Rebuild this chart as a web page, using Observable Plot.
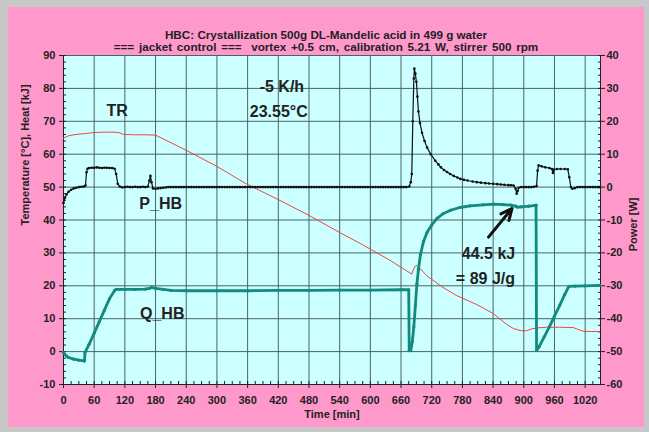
<!DOCTYPE html>
<html>
<head>
<meta charset="utf-8">
<script src="https://cdn.jsdelivr.net/npm/d3@7"></script>
<script src="https://cdn.jsdelivr.net/npm/@observablehq/plot@0.6"></script>
<style>
  html, body { margin: 0; padding: 0; background: #c8c8c8; }
  #wrap { position: relative; width: 649px; height: 432px; overflow: hidden; background: #c8c8c8; }
  #chart { position: absolute; left: 8px; top: 7px; }
  .ttl { position: absolute; left: 8px; width: 636px; text-align: center;
         font: bold 11.7px "Liberation Sans", Arial, sans-serif; color: #222; line-height: 12px; white-space: pre; }
</style>
</head>
<body>
<div id="wrap">
  <div id="chart"></div>
  <div class="ttl" style="top:29px">HBC: Crystallization 500g DL-Mandelic acid in 499 g water</div>
  <div class="ttl" style="top:41px; word-spacing:1.5px">=== jacket control ===  vortex +0.5 cm, calibration 5.21 W, stirrer 500 rpm</div>
</div>
<script>
// Reactor temperature TR [°C]
const trTime = [0, 5, 10, 20, 30, 45, 60, 80, 100, 110, 117, 140, 160, 180, 240, 300, 356, 420, 480, 540, 580, 640, 681, 684, 688, 691, 700, 710, 742, 769, 808, 840, 867, 880, 893, 905, 915, 925, 945, 970, 997, 1005, 1016, 1030, 1048];
const trTemp = [64.8, 65.3, 65.6, 65.9, 66.1, 66.3, 66.6, 66.7, 66.7, 66.5, 66.0, 65.9, 65.9, 65.8, 61.2, 56.3, 51.1, 46.2, 41.4, 36.2, 32.9, 27.6, 23.55, 24.9, 26.0, 26.2, 24.8, 23.1, 19.5, 17.0, 14.3, 11.6, 8.2, 7.0, 6.4, 6.3, 6.9, 7.2, 7.4, 7.4, 7.3, 6.8, 6.2, 6.1, 6.1];

// Integrated heat Q_HB [kJ]
const qTime = [0, 5, 10, 20, 30, 40, 41, 42, 50, 60, 70, 80, 90, 100, 103, 110, 120, 140, 160, 168, 172, 180, 195, 210, 240, 300, 360, 420, 480, 540, 600, 660, 675, 676, 679, 682, 685, 688, 691, 694, 698, 704, 711, 720, 730, 742, 756, 775, 795, 820, 841, 860, 875, 884, 888, 895, 910, 920, 924, 925, 930, 940, 950, 960, 970, 980, 988, 1000, 1020, 1048];
const qHeat = [-0.3, -1.2, -1.8, -2.3, -2.6, -2.8, -2.8, -0.3, 2.2, 5.6, 9.1, 12.6, 16.1, 18.6, 18.9, 18.9, 18.9, 18.9, 19.0, 19.2, 19.5, 19.2, 18.9, 18.6, 18.5, 18.5, 18.5, 18.6, 18.6, 18.7, 18.7, 18.8, 18.8, 0.3, 0.3, 3.0, 7.5, 14.0, 20.5, 25.0, 29.5, 33.5, 36.3, 38.5, 40.4, 41.9, 42.9, 43.8, 44.3, 44.6, 44.8, 44.7, 44.5, 44.2, 43.9, 44.0, 44.2, 44.4, 44.5, 0.3, 1.5, 4.5, 7.5, 10.8, 14.0, 17.3, 19.8, 19.9, 20.0, 20.1];

// Heater power P_HB [W]
const pTime = [0, 3, 6, 10, 15, 20, 25, 30, 35, 40, 43, 45, 47, 50, 55, 60, 65, 70, 75, 80, 85, 90, 95, 100, 103, 106, 110, 115, 120, 125, 130, 135, 140, 145, 150, 155, 160, 165, 168, 170, 172, 175, 180, 185, 190, 195, 200,
  205, 210, 215, 220, 225, 230, 235, 240, 245, 250, 255, 260, 265, 270, 275, 280, 285, 290, 295, 300, 305, 310, 315, 320, 325, 330, 335, 340, 345, 350, 355, 360, 365, 370, 375, 380, 385, 390, 395, 400, 405, 410, 415, 420, 425, 430, 435, 440, 445, 450, 455, 460, 465, 470, 475, 480, 485, 490, 495, 500, 505, 510, 515, 520, 525, 530, 535, 540, 545, 550, 555, 560, 565, 570, 575, 580, 585, 590, 595, 600, 605, 610, 615, 620, 625, 630, 635, 640, 645, 650, 655, 660, 665, 670,
  676, 679, 681, 683, 685, 686, 688, 690, 692, 694, 697, 701, 706, 711, 718, 727, 733, 738, 744, 750, 756, 763, 770, 776, 783, 790, 800, 808, 816, 825, 832, 840, 848, 855, 862, 870, 875, 880, 884, 886, 888, 890, 895, 900, 905, 910, 915, 920, 925, 927, 929, 935, 942, 950, 955, 957, 959, 965, 972, 980, 986, 989, 992, 995, 1000, 1005, 1010, 1015, 1020, 1025, 1030, 1035, 1040, 1045, 1048];
const pPower = [-4.8, -3.2, -2.2, -1.4, -0.8, -0.4, -0.2, 0, 0.1, 0.2, 0.5, 4.5, 5.6, 5.8, 5.9, 5.9, 6.0, 5.9, 5.8, 5.9, 5.9, 5.8, 5.8, 5.6, 4.0, 1.0, 0.2, -0.1, 0, 0.1, 0, 0, 0.1, 0, 0, 0.1, 0, 0.2, 2.0, 3.4, 1.5, -0.4, -0.5, -0.4, -0.3, -0.2, -0.1,
  0, 0, 0, 0, 0, 0, 0, 0, 0, 0, 0, 0, 0, 0, 0, 0, 0, 0, 0, 0, 0, 0, 0, 0, 0, 0, 0, 0, 0, 0, 0, 0, 0, 0, 0, 0, 0, 0, 0, 0, 0, 0, 0, 0, 0, 0, 0, 0, 0, 0, 0, 0, 0, 0, 0, 0, 0, 0, 0, 0, 0, 0, 0, 0, 0, 0, 0, 0, 0, 0, 0, 0, 0, 0, 0, 0, 0, 0, 0, 0, 0, 0, 0, 0, 0, 0, 0, 0, 0, 0, 0, 0, 0, 0,
  0.2, 1.5, 4, 20, 33, 36, 34.5, 32, 27.5, 23, 19.5, 16.5, 14, 12, 10, 8, 6.9, 6, 5.2, 4.6, 4.0, 3.4, 2.9, 2.5, 2.2, 2.0, 1.7, 1.5, 1.35, 1.2, 1.1, 1.0, 0.9, 0.8, 0.7, 0.6, 0.55, 0.5, -0.5, -2.0, -1.2, -0.2, 0, 0, 0, 0, 0, 0.1, 0.3, 5, 6.6, 6.3, 6.0, 5.8, 5.5, 4.3, 5.3, 5.5, 5.5, 5.5, 5.4, 3.0, 0, -0.5, -0.3, 0, 0, 0, 0, 0, 0, 0, 0, 0, 0];

// Axis ticks
const timeTicks = d3.range(0, 1021, 60);
const tempTicks = d3.range(-10, 91, 10);
const powerOffset = 50; // power axis [W] = left axis - 50

const tr = trTime.map((t, i) => ({t, v: trTemp[i]}));
const q = qTime.map((t, i) => ({t, v: qHeat[i]}));
const p = pTime.map((t, i) => ({t, v: pPower[i] + powerOffset}));

const ink = "#222";
const gridColor = "#4a6464";
const teal = "#138a7e";
const font = "Liberation Sans, Arial, sans-serif";

const chart = Plot.plot({
  width: 636,
  height: 420,
  marginLeft: 55,
  marginRight: 44,
  marginTop: 48,
  marginBottom: 43,
  x: {domain: [0, 1050]},
  y: {domain: [-10, 90]},
  style: {background: "#ff99cc", fontFamily: font, fontWeight: "bold", fontSize: "11px", color: ink},
  marks: [
    Plot.frame({fill: "#ccffff", stroke: null}),
    Plot.gridX(timeTicks, {stroke: gridColor, strokeOpacity: 1}),
    Plot.gridY(tempTicks, {stroke: gridColor, strokeOpacity: 1}),
    // minor ticks
    Plot.axisX(d3.range(0, 1051, 15), {tickSize: 3, dy: -3, tickFormat: () => "", label: null, stroke: ink}),
    Plot.axisY(d3.range(-10, 91, 2), {anchor: "left", tickSize: 3, dx: 3, tickFormat: () => "", label: null, stroke: ink}),
    Plot.axisY(d3.range(-10, 91, 2), {anchor: "right", tickSize: 3, dx: -3, tickFormat: () => "", label: null, stroke: ink}),
    // major ticks and labels
    Plot.axisX(timeTicks, {tickSize: 4, tickPadding: 8, tickFormat: d => String(d), label: null, fontSize: 11, fontWeight: "bold", stroke: ink, fill: ink}),
    Plot.axisY(tempTicks, {anchor: "left", tickSize: 4, tickPadding: 4, tickFormat: d => String(d), label: null, fontSize: 11, fontWeight: "bold", stroke: ink, fill: ink}),
    Plot.axisY(tempTicks, {anchor: "right", tickSize: 4, tickPadding: 2, tickFormat: d => String(d - powerOffset), label: null, fontSize: 11, fontWeight: "bold", stroke: ink, fill: ink}),
    Plot.ruleX([0, 1050], {stroke: ink}),
    Plot.ruleY([-10], {stroke: ink}),
    // series
    Plot.line(tr, {x: "t", y: "v", stroke: "#ee4444", strokeWidth: 1}),
    Plot.line(q, {x: "t", y: "v", stroke: teal, strokeWidth: 2.8}),
    Plot.dot(q, {x: "t", y: "v", r: 1.6, fill: teal}),
    Plot.line(p, {x: "t", y: "v", stroke: "#111", strokeWidth: 1.2}),
    Plot.dot(p, {x: "t", y: "v", r: 1.3, fill: "#111"}),
    // annotations
    Plot.arrow([{x1: 831, y1: 34.8, x2: 877, y2: 43.5}], {x1: "x1", y1: "y1", x2: "x2", y2: "y2", stroke: "#111", strokeWidth: 3, headLength: 11, headAngle: 50}),
    Plot.text([
      {t: 105, v: 73.1, s: "TR"},
      {t: 427, v: 80.6, s: "-5 K/h"},
      {t: 421, v: 72.8, s: "23.55°C"},
      {t: 190, v: 45.0, s: "P_HB"},
      {t: 193, v: 11.6, s: "Q_HB"},
      {t: 831, v: 29.8, s: "44.5 kJ"},
      {t: 825, v: 22.2, s: "= 89 J/g"}
    ], {x: "t", y: "v", text: "s", fontSize: 16, fontWeight: "bold", fill: ink}),
    // axis titles
    Plot.text(["Temperature [°C], Heat [kJ]"], {frameAnchor: "left", dx: -38, dy: 5.5, rotate: -90, fontSize: 11, fontWeight: "bold", fill: ink}),
    Plot.text(["Power [W]"], {frameAnchor: "right", dx: 33, dy: -22.5, rotate: -90, fontSize: 11, fontWeight: "bold", fill: ink}),
    Plot.text(["Time [min]"], {frameAnchor: "bottom", dy: 33, fontSize: 11, fontWeight: "bold", fill: ink})
  ]
});
document.getElementById("chart").appendChild(chart);
</script>
</body>
</html>
